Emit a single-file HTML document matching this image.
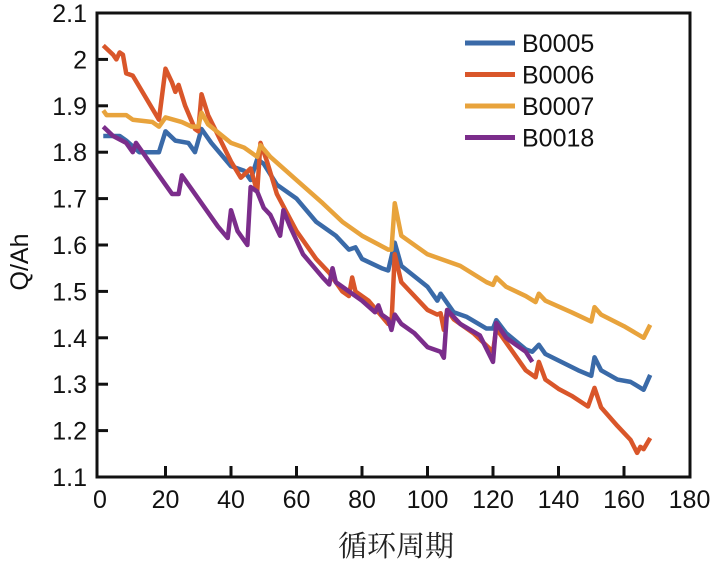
<!DOCTYPE html>
<html><head><meta charset="utf-8"><style>
body{margin:0;background:#fff;width:719px;height:563px;overflow:hidden}
svg text{font-family:"Liberation Sans",sans-serif}
</style></head><body>
<svg id="c" width="719" height="563"></svg>
<script>
const xTicks=[0,20,40,60,80,100,120,140,160,180];
const yTicks=[1.1,1.2,1.3,1.4,1.5,1.6,1.7,1.8,1.9,2,2.1];
const seriesNames=["B0005","B0006","B0007","B0018"];
const colors=["#3a6aa8","#d9562a","#e8a33c","#7b2d8b"];
const b0005=[[1,1.835],[6,1.835],[8,1.825],[12,1.80],[18,1.80],[20,1.845],[23,1.825],[27,1.82],[29,1.80],[31,1.85],[34,1.82],[40,1.77],[44,1.76],[46,1.74],[48,1.785],[50,1.775],[54,1.73],[60,1.70],[66,1.65],[72,1.62],[76,1.59],[78,1.595],[80,1.57],[86,1.55],[88,1.545],[90,1.605],[92,1.555],[100,1.51],[103,1.48],[104,1.495],[108,1.455],[112,1.445],[118,1.42],[120,1.42],[121,1.438],[124,1.41],[130,1.375],[132,1.37],[134,1.385],[136,1.365],[146,1.33],[150,1.318],[151,1.358],[153,1.33],[158,1.31],[162,1.305],[166,1.288],[168,1.32]];
const b0006=[[1,2.03],[4,2.01],[5,2.0],[6,2.015],[7,2.01],[8,1.97],[10,1.965],[18,1.87],[20,1.98],[22,1.95],[23,1.93],[24,1.945],[26,1.90],[29,1.85],[30,1.845],[31,1.925],[33,1.88],[40,1.78],[43,1.745],[46,1.765],[48,1.715],[49,1.82],[51,1.78],[54,1.71],[60,1.63],[66,1.57],[70,1.54],[74,1.50],[76,1.49],[77,1.53],[78,1.50],[82,1.48],[88,1.43],[89,1.43],[90,1.58],[92,1.52],[100,1.46],[103,1.45],[104,1.453],[105,1.417],[106,1.46],[108,1.44],[114,1.41],[120,1.37],[121,1.42],[123,1.40],[130,1.33],[133,1.315],[134,1.348],[136,1.31],[140,1.29],[144,1.275],[149,1.252],[151,1.292],[153,1.25],[158,1.21],[162,1.18],[164,1.152],[165,1.165],[166,1.16],[168,1.184]];
const b0007=[[1,1.89],[2,1.88],[8,1.88],[10,1.87],[16,1.865],[18,1.855],[20,1.875],[25,1.865],[28,1.855],[30,1.855],[31,1.885],[33,1.86],[40,1.82],[44,1.81],[46,1.80],[48,1.79],[49,1.815],[52,1.79],[60,1.74],[68,1.69],[74,1.65],[76,1.64],[80,1.62],[88,1.59],[89,1.59],[90,1.69],[92,1.62],[100,1.58],[110,1.555],[118,1.52],[120,1.514],[121,1.53],[124,1.51],[130,1.49],[133,1.477],[134,1.495],[136,1.48],[144,1.455],[150,1.435],[151,1.466],[153,1.45],[160,1.425],[166,1.40],[168,1.428]];
const b0018=[[1,1.855],[4,1.835],[8,1.82],[10,1.80],[11,1.82],[16,1.77],[20,1.73],[22,1.71],[24,1.71],[25,1.75],[28,1.72],[36,1.64],[39,1.615],[40,1.675],[42,1.63],[45,1.60],[46,1.725],[48,1.715],[50,1.68],[52,1.665],[55,1.62],[56,1.675],[58,1.64],[62,1.58],[68,1.53],[70,1.515],[71,1.55],[72,1.52],[80,1.48],[84,1.455],[85,1.47],[86,1.45],[88,1.44],[89,1.417],[90,1.45],[92,1.43],[96,1.41],[100,1.38],[104,1.37],[105,1.357],[106,1.46],[110,1.43],[116,1.405],[120,1.348],[121,1.432],[124,1.40],[128,1.38],[130,1.37],[132,1.348]];
const allSeries=[b0005,b0006,b0007,b0018];
const L=97,R=690,T=13,B=477;
const X0=100,XS=3.275;
function sx(v){return X0+v*XS;}
function sy(v){return T+(2.1-v)/1.0*(B-T);}
const svg=document.getElementById('c');
const NS='http://www.w3.org/2000/svg';
function mk(tag,attrs,parent){const e=document.createElementNS(NS,tag);for(const k in attrs)e.setAttribute(k,attrs[k]);(parent||svg).appendChild(e);return e;}
const frame=mk('rect',{x:L,y:T,width:R-L,height:B-T,fill:'none',stroke:'#111','stroke-width':3});


xTicks.forEach(t=>{
  const x=sx(t);
  if(t>0&&t<180){const l=mk('line',{x1:x,x2:x,y1:B,y2:B-11,stroke:'#111','stroke-width':3});
  
  }
  const tx=mk('text',{x:x,y:508,'font-size':25,'text-anchor':'middle',fill:'#111'});tx.textContent=t;
  
  
});
yTicks.forEach(t=>{
  const y=sy(t);
  if(t>1.1&&t<2.1){const l=mk('line',{x1:L,x2:L+11,y1:y,y2:y,stroke:'#111','stroke-width':3});
  
  }
  const tx=mk('text',{x:87,y:y+9,'font-size':25,'text-anchor':'end',fill:'#111'});tx.textContent=(t===2?'2':t.toFixed(1));
  
  
});
allSeries.forEach((s,i)=>{
  const p=mk('polyline',{points:s.map(d=>sx(d[0])+','+sy(d[1])).join(' '),fill:'none',stroke:colors[i],'stroke-width':4.5,'stroke-linejoin':'round'});
  
  
});
seriesNames.forEach((n,i)=>{
  const y=43+i*31.5;
  const g=mk('g',{});
  
  
  mk('line',{x1:465,x2:515,y1:y,y2:y,stroke:colors[i],'stroke-width':5},g);
  const tx=mk('text',{x:522,y:y+9,'font-size':25,fill:'#111'},g);tx.textContent=n;
});
const yl=mk('text',{x:0,y:0,'font-size':25,'text-anchor':'middle',fill:'#111',transform:'translate(28,262) rotate(-90)'});yl.textContent='Q/Ah';


const xl=mk('text',{x:396,y:556,'font-size':29,'text-anchor':'middle',fill:'#222',style:'font-family:"Liberation Serif","Noto Serif CJK SC",serif'});xl.textContent='循环周期';


</script>
</body></html>
